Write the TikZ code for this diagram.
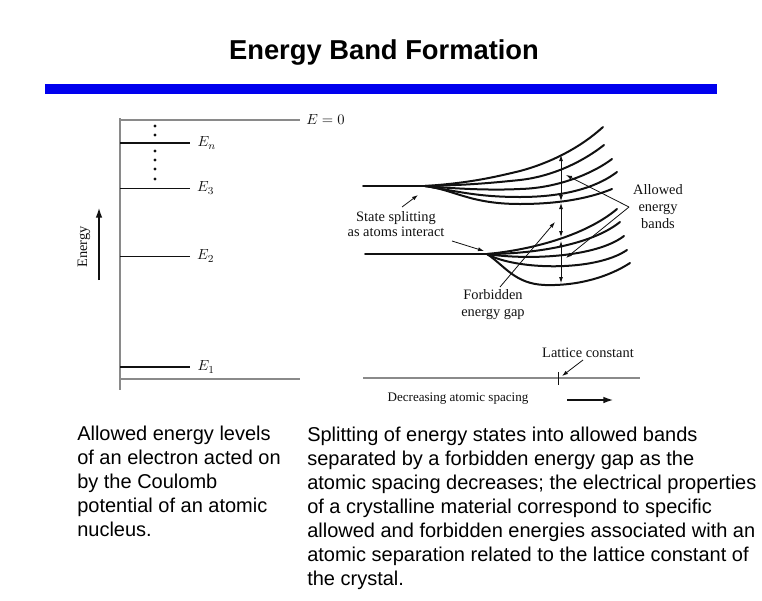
\documentclass[tikz,border=0pt]{standalone}
\usepackage{fontspec}
\setmainfont{Liberation Sans}
\newfontfamily\figfont{Liberation Serif}
\usetikzlibrary{arrows.meta,calc,positioning}
\definecolor{bfInk}{HTML}{111111}
\definecolor{bfBlue}{HTML}{0000EE}
\definecolor{bfAxis}{HTML}{8A8A8A}
\tikzset{
 headline/.style={font=\fontsize{20.5}{24}\selectfont\bfseries,anchor=base,inner sep=0pt},
 captext/.style={font=\fontsize{15}{18}\selectfont,align=left,anchor=north west,inner sep=0pt},
 figtext/.style={font=\figfont\fontsize{10.8}{12.75}\selectfont,align=center,inner sep=0pt,text=bfInk},
 axisline/.style={draw=bfAxis,line width=.9pt},
 level/.style={draw=bfInk,line width=.7pt},
 deeplevel/.style={level,line width=1.5pt},
 band/.style={draw=bfInk,line width=1.5pt,line cap=round},
 pointer/.style={draw=bfInk,line width=.6pt,-{Latex[length=4.5pt,width=3pt]}},
 gauge/.style={draw=bfInk,line width=.6pt,{Latex[length=4.5pt,width=3pt]}-{Latex[length=4.5pt,width=3pt]}},
 bigpointer/.style={draw=bfInk,line width=1.6pt,-{Latex[length=8pt,width=5pt]}}
}

\begin{document}
\begin{tikzpicture}[x=.75pt,y=-.75pt]
 \useasboundingbox (0,0) rectangle (762,600);
 \node[headline] (head) at (384,59) {Energy Band Formation};
 \fill[bfBlue] (45,84) rectangle (717,94);

 % isolated atom levels
 \draw[axisline] (120,118) -- (120,390);
 \draw[axisline] (120,120) -- (300,120);
 \draw[axisline] (120,379) -- (300,379);
 \node[figtext,anchor=west] (ezero) at (306,120) {$E=0$};
 \draw[deeplevel] (120,143) -- (190,143) node[figtext,anchor=west,xshift=5pt] (en) {$E_n$};
 \draw[level] (120,188) -- (190,188) node[figtext,anchor=west,xshift=5pt] (ethree) {$E_3$};
 \draw[level] (120,256) -- (190,256) node[figtext,anchor=west,xshift=5pt] (etwo) {$E_2$};
 \draw[deeplevel] (120,367) -- (190,367) node[figtext,anchor=west,xshift=5pt] (eone) {$E_1$};
 \foreach \y in {126,135,151,160,169,179} {\fill[bfInk] (155,\y) circle (1.6);}
 \coordinate (up0) at (99,280); \coordinate (up1) at (99,207);
 \draw[bigpointer] (up0) -- (up1);
 \node[figtext,rotate=90] (energy) at (84,247) {Energy};

 % splitting into bands
 \coordinate (splitU) at (425,186);
 \coordinate (splitL) at (487,254);
 \draw[band] (363,186) -- (splitU);
 \draw[band] (splitU) .. controls (470,183) and (495,177) .. (520,171) .. controls (550,163) and (580,148) .. (603,127);
 \draw[band] (splitU) .. controls (470,185) and (490,183) .. (520,180) .. controls (555,176) and (585,160) .. (604,145);
 \draw[band] (splitU) .. controls (470,190) and (500,190) .. (520,189) .. controls (560,188) and (595,172) .. (612,159);
 \draw[band] (splitU) .. controls (460,192) and (480,197) .. (520,197) .. controls (570,197) and (600,185) .. (617,172);
 \draw[band] (splitU) .. controls (455,190) and (470,204) .. (520,204) .. controls (560,204) and (590,198) .. (612,189);
 \draw[band] (365,254) -- (splitL);
 \draw[band] (splitL) .. controls (530,250) and (585,236) .. (617,209);
 \draw[band] (splitL) .. controls (530,254) and (590,246) .. (620,222);
 \draw[band] (splitL) .. controls (525,260) and (595,258) .. (624,236);
 \draw[band] (splitL) .. controls (515,270) and (595,272) .. (627,250);
 \draw[band] (splitL) .. controls (505,266) and (515,284) .. (545,285) .. controls (580,286) and (610,276) .. (630,263);

 \foreach \a/\b in {155/201,203/237,241/283} {\draw[gauge] (561,\a) -- (561,\b);}

 \node[figtext,font=\figfont\fontsize{10.8}{11.25}\selectfont] (split) at (396,224) {State splitting\\as atoms interact};
 \node[figtext] (gap) at (493,305) {Forbidden\\energy gap};
 \node[figtext] (allowed) at (658,207) {Allowed\\energy\\bands};
 \coordinate (splitTail) at (402,207); \coordinate (splitTip) at (418,195);
 \coordinate (meetTail) at (452,241); \coordinate (meetTip) at (484,251);
 \coordinate (gapTail) at (500,287); \coordinate (gapTip) at (555,222);
 \coordinate (alw) at (629,207);
 \coordinate (bandU) at (566,175); \coordinate (bandL) at (566,258);
 \draw[pointer] (splitTail) -- (splitTip);
 \draw[pointer] (meetTail) -- (meetTip);
 \draw[pointer] (gapTail) -- (gapTip);
 \draw[pointer] (alw) -- (bandU);
 \draw[pointer] (alw) -- (bandL);

 % spacing axis
 \draw[axisline] (363,378) -- (640,378);
 \draw[level] (558,372) -- (558,385);
 \node[figtext] (lattice) at (588,353) {Lattice constant};
 \coordinate (latTail) at (583,360); \coordinate (latTip) at (562,376);
 \draw[pointer] (latTail) -- (latTip);
 \node[figtext,font=\figfont\fontsize{9.8}{12}\selectfont] (spacing) at (458,399) {Decreasing atomic spacing};
 \coordinate (dec0) at (567,400); \coordinate (dec1) at (614,400);
 \draw[bigpointer] (dec0) -- (dec1);

 % captions
 \node[captext] (leftcap) at (77,426) {Allowed energy levels\\of an electron acted on\\by the Coulomb\\potential of an atomic\\nucleus.};
 \node[captext] (rightcap) at (307,427) {Splitting of energy states into allowed bands\\separated by a forbidden energy gap as the\\atomic spacing decreases; the electrical properties\\of a crystalline material correspond to specific\\allowed and forbidden energies associated with an\\atomic separation related to the lattice constant of\\the crystal.};
\end{tikzpicture}
\end{document}
